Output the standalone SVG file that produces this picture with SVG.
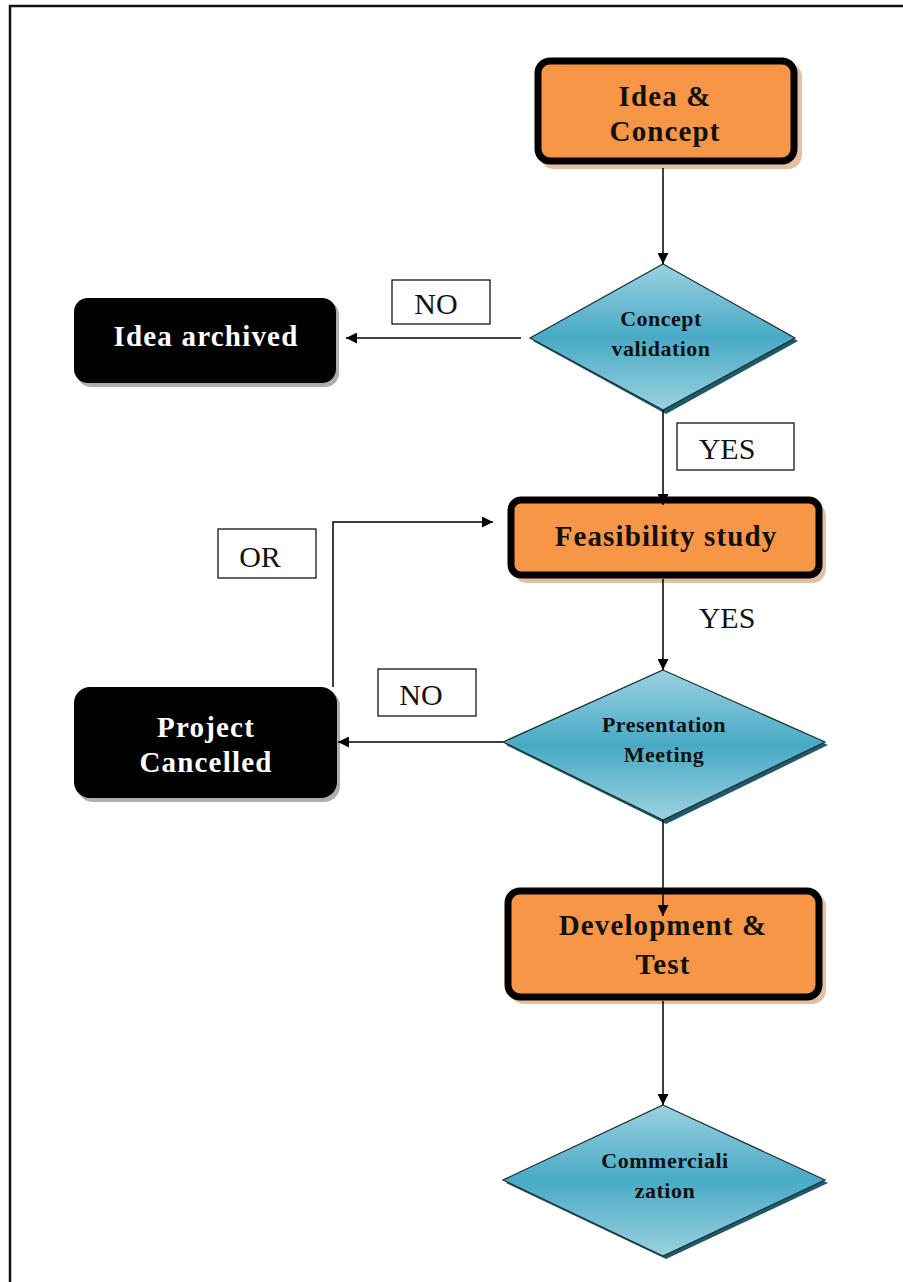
<svg xmlns="http://www.w3.org/2000/svg" width="903" height="1282" viewBox="0 0 903 1282">
  <defs>
    <linearGradient id="diaFill" x1="0" y1="0" x2="0" y2="1">
      <stop offset="0" stop-color="#9ad2e0"/>
      <stop offset="0.5" stop-color="#48a9c5"/>
      <stop offset="1" stop-color="#9ad2e0"/>
    </linearGradient>
    <marker id="arrow" viewBox="0 0 10 10" refX="10" refY="5" markerWidth="11" markerHeight="11" markerUnits="userSpaceOnUse" orient="auto">
      <path d="M0,0 L10,5 L0,10 z" fill="#000"/>
    </marker>
  </defs>
  <style>
    .frame { fill: none; stroke: #111; stroke-width: 2.5; }
    .proc { fill: #f79646; stroke: #000; stroke-width: 7; }
    .procShadow { fill: #d9a57a; opacity: 0.7; }
    .term { fill: #000; }
    .termShadow { fill: #9a9a9a; opacity: 0.8; }
    .dia { fill: url(#diaFill); stroke: #1e2e33; stroke-width: 1.2; }
    .diaShadow { fill: #1f5a6a; }
    .lbl { fill: #fff; stroke: #000; stroke-width: 1.2; }
    .link { fill: none; stroke: #000; stroke-width: 1.5; }
    .t { font-family: "Liberation Serif", "Times New Roman", serif; text-anchor: middle; }
    .tb { font-weight: bold; font-size: 29px; letter-spacing: 1.1px; fill: #111; }
    .tw { font-weight: bold; font-size: 29px; letter-spacing: 1.2px; fill: #fff; }
    .td { font-weight: bold; font-size: 22px; letter-spacing: 0.5px; fill: #111; }
    .tl { font-size: 30px; fill: #111; }
  </style>

  <!-- page frame -->
  <path class="frame" d="M10,1290 L10,6 L910,6"/>

  <!-- Idea & Concept -->
  <g id="idea-concept">
    <rect class="procShadow" x="540" y="63" width="262" height="106" rx="14"/>
    <rect class="proc" x="538" y="61" width="256" height="100" rx="12"/>
    <text class="t tb" x="665" y="106">Idea &amp;</text>
    <text class="t tb" x="665" y="141">Concept</text>
  </g>

  <!-- Concept validation -->
  <g id="concept-validation">
    <polygon class="diaShadow" points="666,267 798,341 666,414 533,341"/>
    <polygon class="dia" points="663,264 795,338 663,410 530,338"/>
    <text class="t td" x="661" y="326">Concept</text>
    <text class="t td" x="661" y="356">validation</text>
  </g>

  <!-- Idea archived -->
  <g id="idea-archived">
    <rect class="termShadow" x="77" y="301" width="262" height="86" rx="14"/>
    <rect class="term" x="74" y="298" width="262" height="85" rx="14"/>
    <text class="t tw" x="206" y="346">Idea archived</text>
  </g>

  <!-- NO label (concept validation) -->
  <g id="label-no-1">
    <rect class="lbl" x="392" y="280" width="98" height="44"/>
    <text class="t tl" x="436" y="314">NO</text>
  </g>

  <!-- YES label (concept validation) -->
  <g id="label-yes-1">
    <rect class="lbl" x="677" y="423" width="117" height="47"/>
    <text class="t tl" x="727" y="459">YES</text>
  </g>

  <!-- Feasibility study -->
  <g id="feasibility-study">
    <rect class="procShadow" x="513" y="502" width="313" height="81" rx="14"/>
    <rect class="proc" x="511" y="500" width="308" height="75" rx="10"/>
    <text class="t tb" x="666" y="546">Feasibility study</text>
  </g>

  <!-- OR label -->
  <g id="label-or">
    <rect class="lbl" x="218" y="529" width="98" height="49"/>
    <text class="t tl" x="260" y="567">OR</text>
  </g>

  <!-- YES label (feasibility) -->
  <g id="label-yes-2">
    <text class="t tl" x="727" y="628">YES</text>
  </g>

  <!-- NO label (presentation) -->
  <g id="label-no-2">
    <rect class="lbl" x="378" y="669" width="98" height="47"/>
    <text class="t tl" x="421" y="705">NO</text>
  </g>

  <!-- Presentation Meeting -->
  <g id="presentation-meeting">
    <polygon class="diaShadow" points="666,673 828,745 666,824 506,745"/>
    <polygon class="dia" points="663,670 825,742 663,820 503,742"/>
    <text class="t td" x="664" y="732">Presentation</text>
    <text class="t td" x="664" y="762">Meeting</text>
  </g>

  <!-- Project Cancelled -->
  <g id="project-cancelled">
    <rect class="termShadow" x="77" y="690" width="263" height="112" rx="16"/>
    <rect class="term" x="74" y="687" width="263" height="111" rx="16"/>
    <text class="t tw" x="206" y="737">Project</text>
    <text class="t tw" x="206" y="772">Cancelled</text>
  </g>

  <!-- Development & Test -->
  <g id="development-test">
    <rect class="procShadow" x="510" y="893" width="316" height="111" rx="14"/>
    <rect class="proc" x="508" y="891" width="311" height="106" rx="12"/>
    <text class="t tb" x="663" y="935">Development &amp;</text>
    <text class="t tb" x="663" y="974">Test</text>
  </g>

  <!-- Commercialization -->
  <g id="commercialization">
    <polygon class="diaShadow" points="666,1108 828,1183 666,1259 506,1183"/>
    <polygon class="dia" points="663,1105 825,1180 663,1256 503,1180"/>
    <text class="t td" x="665" y="1168">Commerciali</text>
    <text class="t td" x="665" y="1198">zation</text>
  </g>

  <!-- connectors, drawn over the shapes so arrowheads stay visible -->
  <g id="connectors">
    <line class="link" x1="663" y1="168" x2="663" y2="264" marker-end="url(#arrow)"/>
    <line class="link" x1="521" y1="338" x2="346" y2="338" marker-end="url(#arrow)"/>
    <line class="link" x1="663" y1="410" x2="663" y2="505" marker-end="url(#arrow)"/>
    <polyline class="link" points="333,687 333,522 493,522" marker-end="url(#arrow)"/>
    <line class="link" x1="663" y1="579" x2="663" y2="670" marker-end="url(#arrow)"/>
    <line class="link" x1="503" y1="742" x2="338" y2="742" marker-end="url(#arrow)"/>
    <line class="link" x1="663" y1="820" x2="663" y2="916" marker-end="url(#arrow)"/>
    <line class="link" x1="663" y1="1001" x2="663" y2="1105" marker-end="url(#arrow)"/>
  </g>
</svg>
